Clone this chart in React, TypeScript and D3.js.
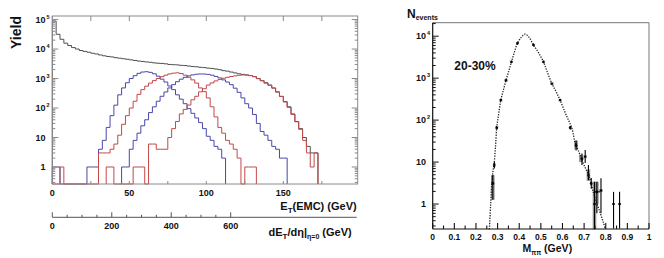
import React from 'react';
import * as d3 from 'd3';

// ---------- Left panel data (counts per 2.5 GeV bin) ----------
const BIN_WIDTH = 2.5;
const blackStart = 0;
const blackCounts = [89000, 31600, 21400, 15800, 13200, 11200, 10000, 8900, 8300, 7800, 7200, 6800, 6300, 5900, 5600, 5400, 5100, 4900, 4700, 4500, 4300, 4100, 3900, 3800, 3650, 3550, 3400, 3300, 3250, 3150, 3000, 2950, 2900, 2800, 2750, 2650, 2550, 2500, 2400, 2350, 2250, 2200, 2100, 2000, 1850, 1780, 1660, 1550, 1450, 1380, 1320, 1260, 1170, 1000, 850, 720, 600, 480, 355, 250, 165, 110, 63, 35, 20, 10, 5, 3, 3];
const blue1Start = 0;
const blue1Counts = [1, 1, 0, 0, 0, 0, 0, 0, 0, 1, 1, 1, 4, 8, 22, 55, 125, 280, 480, 720, 1000, 1250, 1500, 1660, 1700, 1620, 1450, 1200, 950, 760, 560, 420, 280, 200, 140, 95, 66, 46, 32, 20, 11, 8, 5, 4, 2];
const red1Start = 0;
const red1Counts = [0, 0, 1, 0, 0, 0, 0, 0, 0, 0, 0, 0, 3, 3, 3, 4, 6, 12, 28, 55, 100, 170, 290, 420, 550, 700, 850, 1000, 1150, 1300, 1430, 1520, 1560, 1480, 1300, 1100, 900, 700, 480, 360, 220, 110, 50, 22, 14, 8, 6, 4, 2, 0, 1, 1, 1];
const blue2Start = 45;
const blue2Counts = [1, 1, 4, 8, 14, 25, 40, 70, 110, 170, 250, 350, 480, 620, 780, 950, 1100, 1230, 1330, 1400, 1430, 1420, 1380, 1300, 1180, 1050, 900, 760, 620, 470, 340, 220, 140, 100, 60, 30, 16, 12, 8, 5, 4, 2, 2];
const red2Start = 35;
const red2Counts = [1, 1, 0, 0, 0, 0, 0, 1, 1, 1, 0, 6, 6, 4, 4, 4, 10, 20, 35, 63, 90, 126, 190, 250, 355, 450, 600, 710, 830, 930, 1020, 1100, 1170, 1230, 1290, 1320, 1320, 1260, 1150, 990, 840, 700, 590, 470, 345, 245, 160, 105, 60, 34, 19, 8, 3, 1, 3];

const etTicks = [0, 50, 100, 150];
const dedetaTicks = [0, 200, 400, 600];

// ---------- Right panel data ----------
const fitX = [0.262, 0.268, 0.273, 0.279, 0.284, 0.290, 0.296, 0.305, 0.315, 0.327, 0.339, 0.352, 0.364, 0.378, 0.392, 0.410, 0.427, 0.445, 0.466, 0.490, 0.512, 0.531, 0.551, 0.570, 0.589, 0.615, 0.643, 0.659, 0.675, 0.690, 0.707, 0.724, 0.744, 0.760, 0.775, 0.790, 0.798];
const fitY = [0.25, 1.0, 3.1, 6.3, 9.3, 22, 66, 140, 300, 525, 890, 1500, 2450, 4200, 6800, 9500, 11200, 9500, 6200, 4000, 2450, 1350, 740, 480, 300, 140, 65, 28, 18, 11, 7, 4.5, 1.8, 1.0, 0.6, 0.35, 0.25];

const ptX = [0.278, 0.285, 0.296, 0.315, 0.339, 0.364, 0.392, 0.466, 0.512, 0.551, 0.589, 0.636, 0.663, 0.690, 0.705, 0.720, 0.733, 0.748, 0.759, 0.778, 0.836, 0.864];
const ptY = [3.1, 8.5, 66, 300, 890, 2450, 6800, 6200, 2450, 740, 300, 66, 25, 12, 13.5, 4.9, 3.1, 1.0, 1.95, 2.1, 1.0, 1.0];
const ptLo = [1.26, 7, 60, 290, 860, 2380, 6600, 6000, 2380, 715, 290, 60, 19, 8.5, 9.5, 3.7, 2.3, 0.25, 0.6, 0.6, 0.26, 0.26];
const ptHi = [4.9, 10, 72, 310, 920, 2520, 7000, 6400, 2520, 765, 310, 72, 33, 16, 19.5, 8.5, 4.2, 3.4, 3.4, 4.1, 1.95, 1.95];

const sysX = [0.278, 0.663, 0.685, 0.720, 0.748, 0.759];
const sysLo = [1.26, 20, 10, 3.6, 0.25, 1.0];
const sysHi = [4.9, 32, 15, 6.7, 3.4, 3.4];

const mTicks = [0, 0.1, 0.2, 0.3, 0.4, 0.5, 0.6, 0.7, 0.8, 0.9, 1];

const FONT = '"Liberation Sans", Arial, Helvetica, sans-serif';

// left scales
const L = { x0: 52.3, x1: 357.7, y0: 16, y1: 184 };
const xL = d3.scaleLinear().domain([0, 198.3]).range([L.x0, L.x1]);
const yL = d3.scaleLog().domain([0.265, 1.32e5]).range([L.y1, L.y0]);
const x2 = d3.scaleLinear().domain([0, 600]).range([52.3, 230.7]);
const AX2_Y = 217.3;

// right scales
const R = { x0: 432.7, x1: 649, y0: 22.7, y1: 229 };
const xR = d3.scaleLinear().domain([0, 1]).range([R.x0, R.x1]);
const yR = d3.scaleLog().domain([0.254, 2.1e4]).range([R.y1, R.y0]);

function histPath(start: number, counts: number[]) {
  const pts: [number, number][] = [];
  pts.push([xL(start), L.y1]);
  counts.forEach((c, i) => {
    const a = xL(start + i * BIN_WIDTH);
    const b = xL(start + (i + 1) * BIN_WIDTH);
    const y = c > 0 ? yL(c) : L.y1;
    pts.push([a, y], [b, y]);
  });
  pts.push([xL(start + counts.length * BIN_WIDTH), L.y1]);
  return d3.line()(pts) || '';
}

function logTicks(lo: number, hi: number) {
  const out: { v: number; major: boolean }[] = [];
  for (let d = Math.floor(Math.log10(lo)); d <= Math.ceil(Math.log10(hi)); d++) {
    for (let m = 1; m <= 9; m++) {
      const v = m * Math.pow(10, d);
      if (v >= lo && v <= hi) out.push({ v, major: m === 1 });
    }
  }
  return out;
}

function PowLabel({ x, y, exp }: { x: number; y: number; exp: number }) {
  if (exp === 0) return <text x={x} y={y + 3} textAnchor="end" fontSize={9} fontWeight="bold">1</text>;
  if (exp === 1) return <text x={x} y={y + 3} textAnchor="end" fontSize={9} fontWeight="bold">10</text>;
  return (
    <g>
      <text x={x} y={y + 3} textAnchor="end" fontSize={9} fontWeight="bold">10</text>
      <text x={x + 1} y={y - 1} fontSize={5.5} fontWeight="bold">{exp}</text>
    </g>
  );
}

function LeftPanel() {
  const [lo, hi] = yL.domain();
  const lt = logTicks(lo, hi);
  const xt = d3.range(0, 198.3, 25);
  const x2t = d3.range(0, 601, 50);
  return (
    <g>
      <path d={histPath(blackStart, blackCounts)} fill="none" stroke="#505050" strokeWidth={1} />
      <path d={histPath(blue1Start, blue1Counts)} fill="none" stroke="#4848a8" strokeWidth={1} />
      <path d={histPath(red1Start, red1Counts)} fill="none" stroke="#c44848" strokeWidth={1} />
      <path d={histPath(blue2Start, blue2Counts)} fill="none" stroke="#4848a8" strokeWidth={1} />
      <path d={histPath(red2Start, red2Counts)} fill="none" stroke="#c44848" strokeWidth={1} />
      <rect x={L.x0} y={L.y0} width={L.x1 - L.x0} height={L.y1 - L.y0} fill="none" stroke="#8a8a8a" strokeWidth={1} />
      {lt.map((t, i) => (
        <g key={i}>
          <line x1={L.x0} x2={L.x0 + (t.major ? 6 : 3)} y1={yL(t.v)} y2={yL(t.v)} stroke="#8a8a8a" />
          <line x1={L.x1} x2={L.x1 - (t.major ? 6 : 3)} y1={yL(t.v)} y2={yL(t.v)} stroke="#8a8a8a" />
        </g>
      ))}
      {xt.map((v, i) => (
        <g key={i}>
          <line x1={xL(v)} x2={xL(v)} y1={L.y0} y2={L.y0 + 5} stroke="#8a8a8a" />
          <line x1={xL(v)} x2={xL(v)} y1={L.y1} y2={L.y1 - 3} stroke="#8a8a8a" />
        </g>
      ))}
      {[0, 1, 2, 3, 4, 5].map(e => (
        <PowLabel key={e} x={45.5} y={yL(Math.pow(10, e))} exp={e} />
      ))}
      {etTicks.map(v => (
        <text key={v} x={xL(v)} y={196} textAnchor="middle" fontSize={9} fontWeight="bold">{v}</text>
      ))}
      <text x={356.7} y={209.5} textAnchor="end" fontSize={11} fontWeight="bold">
        E<tspan fontSize={8} dy={3}>T</tspan><tspan dy={-3}>(EMC) (GeV)</tspan>
      </text>
      <text transform="translate(21,32.5) rotate(-90)" textAnchor="middle" fontSize={14} fontWeight="bold">Yield</text>
      {/* second axis */}
      <line x1={52.3} x2={356.7} y1={AX2_Y} y2={AX2_Y} stroke="#555" strokeWidth={1} />
      {x2t.map(v => (
        <line key={v} x1={x2(v)} x2={x2(v)} y1={AX2_Y} y2={AX2_Y - (v % 200 === 0 ? 5 : 2.5)} stroke="#555" />
      ))}
      {dedetaTicks.map(v => (
        <text key={v} x={x2(v)} y={229} textAnchor="middle" fontSize={9} fontWeight="bold">{v}</text>
      ))}
      <text x={351.7} y={236} textAnchor="end" fontSize={11} fontWeight="bold">
        dE<tspan fontSize={8} dy={3}>T</tspan><tspan dy={-3}>/dη|</tspan><tspan fontSize={7} dy={3}>η=0</tspan><tspan dy={-3}> (GeV)</tspan>
      </text>
    </g>
  );
}

function Star({ x, y }: { x: number; y: number }) {
  const s = 1.5;
  return (
    <g stroke="#000" strokeWidth={0.9}>
      <line x1={x - s} x2={x + s} y1={y} y2={y} />
      <line x1={x} x2={x} y1={y - s} y2={y + s} />
      <line x1={x - s * 0.7} x2={x + s * 0.7} y1={y - s * 0.7} y2={y + s * 0.7} />
      <line x1={x - s * 0.7} x2={x + s * 0.7} y1={y + s * 0.7} y2={y - s * 0.7} />
    </g>
  );
}

function RightPanel() {
  const [lo, hi] = yR.domain();
  const lt = logTicks(lo, hi);
  const fitLine = d3.line<number>()
    .x((_, i) => xR(fitX[i]))
    .y((d) => yR(d))
    .curve(d3.curveCatmullRom.alpha(0.5));
  const xt = d3.range(0, 1.0001, 0.05);
  return (
    <g>
      {sysX.map((x, i) => (
        <rect key={i} x={xR(x) - 1.8} width={3.6} y={yR(sysHi[i])} height={yR(sysLo[i]) - yR(sysHi[i])} fill="#9a9a9a" />
      ))}
      <path d={fitLine(fitY) || ''} fill="none" stroke="#222" strokeWidth={1.3} strokeDasharray="1.3 1.3" />
      {ptX.map((x, i) => (
        <g key={i}>
          <line x1={xR(x)} x2={xR(x)} y1={yR(ptHi[i])} y2={yR(ptLo[i])} stroke="#000" strokeWidth={1.1} />
          <Star x={xR(x)} y={yR(ptY[i])} />
        </g>
      ))}
      <line x1={xR(0.745)} x2={xR(0.775)} y1={yR(1.95)} y2={yR(1.95)} stroke="#000" strokeWidth={1} />
      {/* frame */}
      <line x1={R.x0} x2={R.x1} y1={R.y0} y2={R.y0} stroke="#777" />
      <line x1={R.x1} x2={R.x1} y1={R.y0} y2={R.y1} stroke="#777" />
      <line x1={R.x0} x2={R.x0} y1={R.y0} y2={R.y1} stroke="#111" strokeWidth={1.2} />
      <line x1={R.x0} x2={R.x1} y1={R.y1} y2={R.y1} stroke="#111" strokeWidth={1.2} />
      {lt.map((t, i) => (
        <line key={i} x1={R.x0} x2={R.x0 + (t.major ? 6 : 3)} y1={yR(t.v)} y2={yR(t.v)} stroke="#111" />
      ))}
      {xt.map((v, i) => (
        <line key={i} x1={xR(v)} x2={xR(v)} y1={R.y1} y2={R.y1 - (i % 2 === 0 ? 6 : 3.5)} stroke="#111" strokeWidth={1.1} />
      ))}
      {[0, 1, 2, 3, 4].map(e => (
        <PowLabel key={e} x={426} y={yR(Math.pow(10, e))} exp={e} />
      ))}
      {mTicks.map(v => (
        <text key={v} x={xR(v)} y={240} textAnchor="middle" fontSize={8.5} fontWeight="bold">{String(v)}</text>
      ))}
      <text x={522.5} y={252} fontSize={10.5} fontWeight="bold">
        M<tspan fontSize={6.5} dy={2.5}>ππ</tspan><tspan dy={-2.5}> (GeV)</tspan>
      </text>
      <text x={407} y={17.5} fontSize={12} fontWeight="bold">
        N<tspan fontSize={7} dy={2.5}>events</tspan>
      </text>
      <text x={454.3} y={70} fontSize={12} fontWeight="bold">20-30%</text>
    </g>
  );
}

export default function App() {
  return (
    <svg width={664} height={258} viewBox="0 0 664 258"
      style={{ position: 'absolute', left: 0, top: 0, background: '#fff', fontFamily: FONT }}>
      <rect x={0} y={0} width={664} height={258} fill="#fff" />
      <g fontFamily={FONT} fill="#111">
        <LeftPanel />
        <RightPanel />
      </g>
    </svg>
  );
}
